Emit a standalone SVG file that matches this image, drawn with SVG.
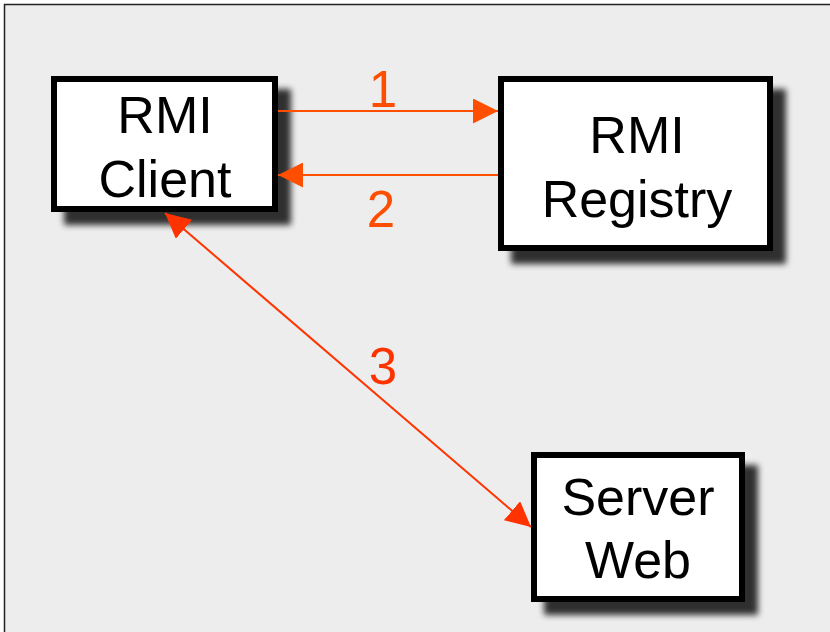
<svg xmlns="http://www.w3.org/2000/svg" width="830" height="632" viewBox="0 0 830 632">
  <defs>
    <filter id="shadow" x="-20%" y="-20%" width="150%" height="150%">
      <feGaussianBlur in="SourceAlpha" stdDeviation="3"/>
      <feOffset dx="13" dy="13" result="b"/>
      <feComponentTransfer><feFuncA type="linear" slope="0.8"/></feComponentTransfer>
      <feMerge><feMergeNode/><feMergeNode in="SourceGraphic"/></feMerge>
    </filter>
    <marker id="headA" viewBox="0 0 25 25" refX="25" refY="12.5" markerWidth="25" markerHeight="25" markerUnits="userSpaceOnUse" orient="auto-start-reverse">
      <path d="M0,0 L25,12.5 L0,25 Z" fill="#ff4e00"/>
    </marker>
    <marker id="headB" viewBox="0 0 25 25" refX="25" refY="12.5" markerWidth="25" markerHeight="25" markerUnits="userSpaceOnUse" orient="auto-start-reverse">
      <path d="M0,0 L25,12.5 L0,25 Z" fill="#ff3300"/>
    </marker>
    <style>
      .box { fill: #ffffff; stroke: #000000; stroke-width: 6; }
      .label { font-family: "Liberation Sans", Arial, sans-serif; font-size: 52px; fill: #000000; text-anchor: middle; }
      .num { font-family: "Liberation Sans", Arial, sans-serif; font-size: 51px; text-anchor: middle; }
      .conn { fill: none; stroke-width: 2; }
    </style>
  </defs>

  <!-- page -->
  <rect x="0" y="0" width="830" height="632" fill="#ffffff"/>
  <rect x="4.5" y="4.5" width="830" height="632" fill="#ededed" stroke="#222222" stroke-width="1.5"/>

  <g id="rmi-client" filter="url(#shadow)">
    <rect class="box" x="54" y="79" width="221" height="130"/>
    <text class="label" x="165" y="133">RMI</text>
    <text class="label" x="165" y="197">Client</text>
  </g>

  <g id="rmi-registry" filter="url(#shadow)">
    <rect class="box" x="501" y="79" width="269" height="169"/>
    <text class="label" x="637" y="153">RMI</text>
    <text class="label" x="637" y="217">Registry</text>
  </g>

  <g id="server-web" filter="url(#shadow)">
    <rect class="box" x="534" y="455" width="208" height="144"/>
    <text class="label" x="638" y="515">Server</text>
    <text class="label" x="638" y="578">Web</text>
  </g>

  <g id="connectors">
    <line class="conn" stroke="#ff4e00" x1="278" y1="111" x2="498" y2="111" marker-end="url(#headA)"/>
    <line class="conn" stroke="#ff4e00" x1="498" y1="175" x2="278" y2="175" marker-end="url(#headA)"/>
    <line class="conn" stroke="#ff3300" x1="165" y1="213" x2="531" y2="527" marker-start="url(#headB)" marker-end="url(#headB)"/>
    <text class="num" fill="#ff4e00" x="383" y="107">1</text>
    <text class="num" fill="#ff4e00" x="381" y="227">2</text>
    <text class="num" fill="#ff3300" x="383" y="384">3</text>
  </g>
</svg>
